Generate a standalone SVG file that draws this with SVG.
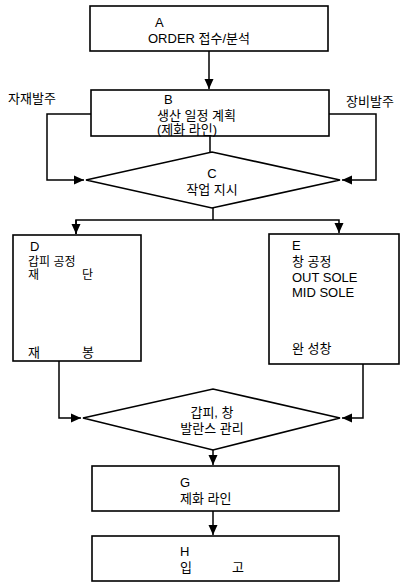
<svg xmlns="http://www.w3.org/2000/svg" width="401" height="582" viewBox="0 0 401 582">
<style>
.box{fill:#fff;stroke:#000;stroke-width:1.6}
.ln{fill:none;stroke:#000;stroke-width:1.5}
text{font-family:"Liberation Sans","Noto Sans CJK KR",sans-serif;font-size:13px;fill:#000}
.mid{text-anchor:middle}
.sm{font-size:12px}
</style>
<defs>
<marker id="ah" markerUnits="userSpaceOnUse" markerWidth="10" markerHeight="10" viewBox="0 0 10 10" refX="10" refY="5" orient="auto">
<path d="M0,0.5 L10,5 L0,9.5 Z" fill="#000"/>
</marker>
</defs>
<rect width="401" height="582" fill="#fff"/>
<g id="connectors">
<path class="ln" d="M209,51 V89" marker-end="url(#ah)"/>
<path class="ln" d="M91,114 H47 V180 H84" marker-end="url(#ah)"/>
<path class="ln" d="M329,114 H376 V180 H342" marker-end="url(#ah)"/>
<path class="ln" d="M210,136 V152"/>
<path class="ln" d="M213,208 V220"/>
<path class="ln" d="M76,234 V220 H339 V233" marker-end="url(#ah)"/>
<path class="ln" d="M76,220 V234" marker-end="url(#ah)"/>
<path class="ln" d="M59,361 V418 H81" marker-end="url(#ah)"/>
<path class="ln" d="M363,364 V418 H342" marker-end="url(#ah)"/>
<path class="ln" d="M213,450 V465" marker-end="url(#ah)"/>
<path class="ln" d="M213,511 V535" marker-end="url(#ah)"/>
</g>
<g id="label-left"><text x="8" y="103">자재발주</text></g>
<g id="label-right"><text x="346" y="106">장비발주</text></g>
<g id="A">
<rect class="box" x="90" y="6" width="238" height="45"/>
<text x="155" y="27">A</text>
<text x="148" y="43">ORDER 접수/분석</text>
</g>
<g id="B">
<rect class="box" x="91" y="90" width="238" height="46"/>
<text x="164" y="104">B</text>
<text x="157" y="120">생산 일정 계획</text>
<text x="157" y="134">(제화 라인)</text>
</g>
<g id="C">
<polygon class="box" points="86,180 212,152 340,180 212,208"/>
<text class="mid" x="212" y="178">C</text>
<text class="mid" x="212" y="194">작업 지시</text>
</g>
<g id="D">
<rect class="box" x="13" y="235" width="128" height="126"/>
<text x="30" y="251">D</text>
<text class="sm" x="28" y="266">갑피 공정</text>
<text class="sm" x="28" y="279">재</text>
<text class="sm" x="82" y="279">단</text>
<text x="28" y="357">재</text>
<text x="82" y="357">봉</text>
</g>
<g id="E">
<rect class="box" x="269" y="234" width="130" height="130"/>
<text x="292" y="250">E</text>
<text x="292" y="266">창 공정</text>
<text x="292" y="282">OUT SOLE</text>
<text x="292" y="297">MID SOLE</text>
<text x="292" y="353">완 성창</text>
</g>
<g id="F">
<polygon class="box" points="83,418 213,389 340,418 213,450"/>
<text class="mid" x="212" y="417">갑피, 창</text>
<text class="mid" x="212" y="433">발란스 관리</text>
</g>
<g id="G">
<rect class="box" x="92" y="466" width="247" height="45"/>
<text x="180" y="487">G</text>
<text x="180" y="503">제화 라인</text>
</g>
<g id="H">
<rect class="box" x="92" y="536" width="247" height="45"/>
<text x="180" y="556">H</text>
<text x="180" y="572">입</text>
<text x="232" y="572">고</text>
</g>
</svg>
